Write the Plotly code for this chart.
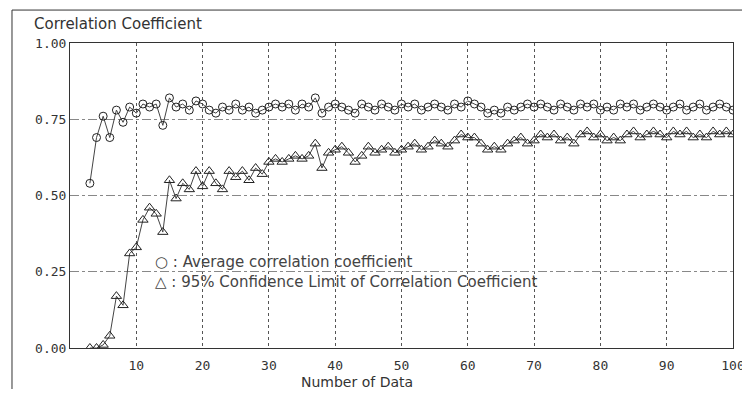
import plotly.graph_objects as go

# Number of data points (x) and the two series
n_data = list(range(3, 101))

avg_corr = [
    0.54, 0.69, 0.76, 0.69, 0.78, 0.74, 0.79, 0.77, 0.80, 0.79,
    0.80, 0.73, 0.82, 0.79, 0.80, 0.78, 0.81, 0.80, 0.78, 0.77,
    0.79, 0.78, 0.80, 0.78, 0.79, 0.77, 0.78, 0.79, 0.80, 0.79,
    0.80, 0.78, 0.80, 0.79, 0.82, 0.77, 0.79, 0.80, 0.79, 0.78,
    0.77, 0.80, 0.79, 0.78, 0.80, 0.79, 0.78, 0.80, 0.79, 0.80,
    0.78, 0.79, 0.80, 0.79, 0.78, 0.80, 0.79, 0.81, 0.80, 0.79,
    0.77, 0.78, 0.77, 0.79, 0.78, 0.79, 0.80, 0.79, 0.80, 0.79,
    0.78, 0.80, 0.79, 0.78, 0.80, 0.79, 0.80, 0.78, 0.79, 0.78,
    0.80, 0.79, 0.80, 0.78, 0.79, 0.80, 0.79, 0.78, 0.79, 0.80,
    0.78, 0.79, 0.80, 0.78, 0.79, 0.80, 0.79, 0.78,
]

conf_limit = [
    0.00, 0.00, 0.01, 0.04, 0.17, 0.14, 0.31, 0.33, 0.42, 0.46,
    0.44, 0.38, 0.55, 0.49, 0.54, 0.52, 0.58, 0.53, 0.58, 0.54,
    0.52, 0.58, 0.56, 0.58, 0.55, 0.59, 0.57, 0.61, 0.62, 0.61,
    0.62, 0.63, 0.62, 0.63, 0.67, 0.59, 0.64, 0.65, 0.66, 0.64,
    0.61, 0.63, 0.66, 0.64, 0.65, 0.66, 0.64, 0.65, 0.66, 0.67,
    0.65, 0.66, 0.68, 0.67, 0.66, 0.68, 0.70, 0.69, 0.69, 0.67,
    0.65, 0.66, 0.65, 0.67, 0.68, 0.69, 0.67, 0.68, 0.70, 0.69,
    0.70, 0.68, 0.69, 0.67, 0.70, 0.71, 0.69, 0.70, 0.68, 0.69,
    0.68, 0.70, 0.71, 0.69, 0.70, 0.71, 0.70, 0.69, 0.71, 0.70,
    0.71, 0.69, 0.70, 0.69, 0.71, 0.70, 0.71, 0.70,
]

x_ticks = [10, 20, 30, 40, 50, 60, 70, 80, 90, 100]
y_ticks = [0.0, 0.25, 0.5, 0.75, 1.0]

fig = go.Figure()

fig.add_trace(go.Scatter(
    x=n_data, y=avg_corr, mode="lines+markers",
    line=dict(color="#444", width=1),
    marker=dict(symbol="circle-open", size=8, color="#222", line=dict(width=1)),
))

fig.add_trace(go.Scatter(
    x=n_data, y=conf_limit, mode="lines+markers",
    line=dict(color="#444", width=1),
    marker=dict(symbol="triangle-up-open", size=9, color="#222", line=dict(width=1)),
))

mono = dict(family="DejaVu Sans Mono", size=13, color="#333")
sans = dict(family="DejaVu Sans", size=15, color="#333")

fig.update_xaxes(
    range=[0, 100], tickvals=x_ticks, tickfont=mono, ticklabelstandoff=5,
    showgrid=True, gridcolor="#555", griddash="dot", gridwidth=1,
    showline=True, linecolor="#333", linewidth=1, mirror=True,
    zeroline=False, ticks="", automargin=False,
)
fig.update_yaxes(
    range=[0, 1], tickvals=y_ticks, tickformat=".2f", tickfont=mono,
    showgrid=True, gridcolor="#888", griddash="dashdot", gridwidth=1,
    showline=True, linecolor="#333", linewidth=1, mirror=True,
    zeroline=False, ticks="", automargin=False,
)

# outer frame around the whole chart
fig.add_shape(
    type="rect", xref="paper", yref="paper",
    x0=-0.0875, x1=1.0226, y0=-0.2, y1=1.108,
    line=dict(color="#333", width=1), layer="below",
)

fig.add_annotation(
    text="Correlation Coefficient", xref="paper", yref="paper",
    x=-0.057, y=1.062, xanchor="left", yanchor="middle",
    showarrow=False, font=sans,
)
fig.add_annotation(
    text="Number of Data", xref="paper", yref="paper",
    x=0.433, y=-0.11, xanchor="center", yanchor="middle",
    showarrow=False, font=dict(family="DejaVu Sans", size=14, color="#333"),
)

# in-plot legend
legend_font = dict(family="DejaVu Sans", size=15, color="#444")
fig.add_annotation(
    text="○ : Average correlation coefficient", xref="paper", yref="paper",
    x=0.125, y=0.283, xanchor="left", yanchor="middle",
    showarrow=False, font=legend_font,
)
fig.add_annotation(
    text="△ : 95% Confidence Limit of Correlation Coefficient", xref="paper", yref="paper",
    x=0.125, y=0.217, xanchor="left", yanchor="middle",
    showarrow=False, font=legend_font,
)

# page body has an 8px margin, so the figure is sized to fit the window
fig.update_layout(
    width=742, height=381,
    margin=dict(l=62, r=17, t=35, b=41),
    plot_bgcolor="white", paper_bgcolor="white",
    showlegend=False,
)

fig.write_html("out.html")
